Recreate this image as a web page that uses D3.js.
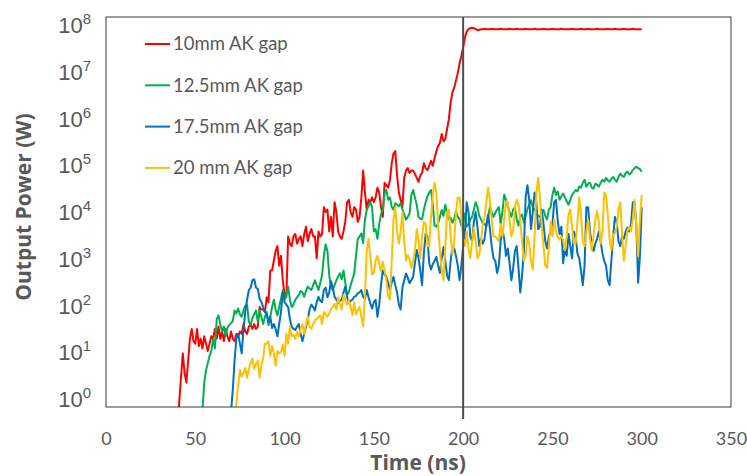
<!DOCTYPE html>
<html>
<head>
<meta charset="utf-8">
<script src="https://cdn.jsdelivr.net/npm/d3@7"></script>
<style>
  html, body { margin: 0; padding: 0; background: #fff; }
  svg { display: block; }
</style>
</head>
<body>
<svg id="chart" width="747" height="476"></svg>
<script>
// Output power traces, stored as log10 of the power in W,
// sampled every 1 ns starting at each trace's first time.
const seriesNames = ["10mm AK gap", "12.5mm AK gap", "17.5mm AK gap", "20 mm AK gap"];
const startTimes = [40, 54, 70, 72];
const sampleStep = 1;

const logPower10mm = [
  -0.5,0.1,0.6,1.1,0.7,0.5,0.95,1.4,1.6,1.35,
  1.3,1.6,1.25,1.4,1.2,1.45,1.3,1.15,1.3,1.45,
  1.4,1.6,1.4,1.65,1.4,1.55,1.35,1.6,1.45,1.35,
  1.55,1.4,1.35,1.5,1.45,1.55,1.5,1.7,1.55,1.5,
  1.65,1.7,1.6,1.7,1.6,1.65,2.05,2.0,2.0,1.95,
  2.25,2.15,2.8,2.8,3.0,3.2,3.3,2.9,3.1,2.6,
  2.3,2.25,3.5,3.35,3.3,3.5,3.55,3.35,3.45,3.5,
  3.3,3.55,3.7,3.4,3.55,3.65,3.5,3.5,3.05,3.6,
  3.5,3.55,4.1,4.0,4.05,3.6,3.9,3.5,4.2,4.0,
  3.6,3.5,3.45,3.6,3.8,4.2,4.25,4.0,3.9,4.1,
  4.05,3.8,3.9,4.3,4.85,4.4,4.05,4.25,4.2,4.3,
  4.2,4.3,4.5,4.4,4.1,3.9,4.6,4.55,4.5,4.65,
  5.0,5.2,5.25,4.75,4.4,4.25,4.1,4.7,4.85,4.9,
  4.8,4.85,4.85,4.78,4.7,4.62,4.75,4.8,5.0,4.9,
  4.86,4.95,5.05,4.95,5.1,5.25,5.35,5.42,5.6,5.45,
  5.5,5.7,5.9,6.25,6.45,6.55,6.7,6.85,7.05,7.2,
  7.38,7.58,7.7,7.75,7.77,7.78,7.77,7.75,7.73,7.74,
  7.75,7.75,7.76,7.75,7.75,7.75,7.76,7.75,7.75,7.75,
  7.75,7.76,7.75,7.75,7.75,7.75,7.76,7.75,7.75,7.75,
  7.76,7.75,7.75,7.75,7.75,7.76,7.75,7.75,7.75,7.75,
  7.76,7.75,7.75,7.75,7.75,7.76,7.75,7.75,7.75,7.75,
  7.76,7.75,7.75,7.75,7.75,7.76,7.75,7.75,7.75,7.75,
  7.75,7.76,7.75,7.75,7.75,7.75,7.76,7.75,7.75,7.75,
  7.76,7.75,7.75,7.75,7.75,7.76,7.75,7.75,7.75,7.75,
  7.75,7.76,7.75,7.75,7.75,7.76,7.75,7.75,7.75,7.75,
  7.76,7.75,7.75,7.75,7.75,7.76,7.75,7.75,7.75,7.75,
  7.75
];

const logPower12p5mm = [
  -0.1,0.5,0.75,0.9,1.05,1.15,
  1.4,1.2,1.8,1.88,1.7,1.55,1.65,1.45,1.62,1.68,
  1.72,1.76,1.98,1.92,2.02,1.9,1.85,1.98,2.08,2.1,
  1.75,1.68,1.82,1.9,1.98,1.75,1.98,1.85,1.7,1.85,
  1.95,1.68,1.85,2.05,2.2,2.0,1.88,2.05,2.22,2.4,
  2.2,2.3,2.47,2.2,2.05,2.1,2.2,2.25,2.3,2.38,
  2.35,2.26,2.38,2.47,2.43,2.4,2.5,2.6,2.5,2.4,
  2.55,2.7,3.1,3.34,3.2,2.7,2.45,2.4,2.5,2.6,
  2.68,2.74,2.62,2.8,2.55,2.3,2.35,2.5,2.62,2.74,
  3.1,3.45,3.5,3.56,3.36,3.84,4.04,4.12,4.2,4.1,
  3.6,3.65,3.45,3.75,3.95,4.05,4.38,4.45,4.25,4.3,
  4.1,4.05,4.18,4.15,4.12,4.18,4.05,3.95,3.84,3.9,
  3.97,4.35,4.45,4.3,4.15,3.9,3.86,3.85,4.05,4.2,
  4.32,4.4,4.45,4.15,3.72,3.7,3.77,3.9,4.04,3.92,
  4.15,3.95,3.85,3.88,3.78,3.85,4.02,3.9,3.85,3.72,
  3.78,3.97,3.7,3.75,3.85,3.9,4.05,4.2,4.1,3.92,
  3.85,3.77,3.75,3.7,3.9,4.1,4.0,3.9,3.98,4.05,
  4.1,3.75,4.0,4.36,4.25,4.1,4.0,3.9,4.05,4.1,
  3.85,3.72,3.9,3.95,3.78,3.92,4.06,4.15,4.24,4.1,
  4.04,3.98,3.92,3.9,3.98,4.04,3.92,3.85,4.05,4.1,
  4.35,4.5,4.35,4.42,4.25,4.32,4.38,4.3,4.22,4.15,
  4.25,4.35,4.4,4.45,4.42,4.52,4.5,4.6,4.66,4.52,
  4.58,4.6,4.5,4.48,4.58,4.56,4.52,4.6,4.66,4.62,
  4.7,4.65,4.62,4.68,4.72,4.66,4.62,4.72,4.79,4.74,
  4.72,4.8,4.83,4.77,4.8,4.86,4.9,4.93,4.9,4.88,
  4.83
];

const logPower17p5mm = [
  -0.1,0.35,0.95,1.4,1.5,1.3,1.1,1.6,1.95,2.2,
  2.4,2.45,2.6,2.62,2.45,2.42,2.22,2.16,2.05,1.95,
  1.9,1.75,1.85,1.62,1.7,1.6,1.45,1.7,1.95,2.35,
  2.15,2.1,2.05,1.8,1.65,1.6,1.58,1.65,1.7,1.5,
  1.35,1.5,1.65,1.8,2.0,2.1,2.05,1.98,2.15,2.26,
  2.18,2.15,2.4,2.45,2.25,2.35,2.58,2.45,2.26,2.2,
  2.13,2.18,2.2,2.35,2.47,2.25,2.13,2.18,2.2,2.26,
  2.28,2.33,2.35,2.4,2.26,2.22,2.4,2.25,2.13,2.02,
  2.15,2.2,1.85,2.1,2.5,2.8,2.72,2.67,2.55,2.4,
  2.55,2.67,2.5,2.35,2.1,2.0,2.45,2.6,2.74,2.65,
  2.54,2.6,2.67,2.95,3.22,3.05,2.8,2.5,3.15,3.55,
  3.5,2.95,2.82,2.93,3.0,3.08,2.9,2.75,3.05,3.28,
  3.0,2.7,2.6,3.0,3.3,3.25,3.1,2.9,2.6,2.9,
  3.3,3.6,4.2,4.0,3.5,3.4,3.8,4.0,3.7,3.3,
  3.45,3.35,3.45,3.75,3.95,3.65,3.3,3.05,3.0,2.75,
  2.9,3.4,3.62,3.45,3.1,3.25,2.95,2.6,2.85,3.2,
  3.3,2.85,2.35,2.7,3.2,4.3,4.55,4.25,3.65,4.0,
  4.4,4.2,3.65,3.7,4.05,3.75,3.4,3.25,3.5,3.6,
  3.75,4.2,4.25,3.8,3.55,3.7,2.95,3.25,3.1,3.55,
  3.3,3.05,3.6,3.5,3.15,3.05,2.8,2.5,2.9,4.1,
  4.1,3.6,3.35,3.2,3.35,3.45,3.6,3.4,3.15,3.0,
  2.9,2.6,2.5,3.0,3.5,3.9,3.8,3.4,3.3,3.5,
  3.45,3.6,3.68,3.6,3.75,4.2,4.2,3.7,2.55,3.1,
  4.1
];

const logPower20mm = [
  -0.3,0.05,0.45,0.76,0.62,0.7,0.8,0.6,
  0.78,0.9,1.0,0.78,0.88,0.95,0.6,0.85,1.0,1.3,
  1.3,1.35,1.05,1.25,1.1,0.85,1.15,1.1,1.12,1.28,
  1.05,1.5,1.3,1.65,1.45,1.48,1.4,1.55,1.45,1.6,
  1.7,1.5,1.7,1.85,1.65,1.6,1.7,1.78,1.8,1.85,
  1.88,1.7,1.95,1.9,1.85,1.92,2.0,2.05,2.12,2.0,
  2.25,2.12,2.0,2.3,2.18,2.1,2.2,2.05,1.88,2.15,
  1.9,1.98,2.05,1.85,1.65,2.3,3.2,3.45,3.1,2.72,
  2.75,3.0,3.1,2.95,2.78,2.98,2.8,2.6,2.28,2.2,
  3.0,3.85,4.1,3.6,3.35,3.6,4.0,3.4,3.0,3.12,
  3.02,2.85,3.0,3.2,3.65,3.4,3.05,3.5,3.8,3.75,
  3.3,3.3,3.9,4.35,4.6,4.4,3.72,3.2,2.8,2.6,
  3.3,4.0,4.05,3.5,3.12,3.4,3.98,4.3,4.3,3.9,
  3.45,3.3,3.6,3.25,3.05,3.4,3.68,3.4,3.05,3.12,
  3.4,3.75,3.9,4.2,4.5,4.25,3.84,3.5,3.5,3.45,
  3.4,3.75,3.5,3.85,4.22,4.2,3.85,3.5,3.6,4.1,
  4.25,4.15,3.8,3.4,3.0,3.1,3.5,3.35,3.0,2.82,
  3.5,4.4,4.7,4.3,3.7,3.3,2.9,2.85,3.3,3.8,
  3.5,3.85,3.6,3.5,3.43,3.5,3.43,3.22,3.5,3.95,
  4.05,3.7,3.35,3.35,3.8,4.3,3.95,3.4,3.3,3.6,
  3.84,3.45,3.22,3.5,3.85,4.02,3.8,3.35,3.6,4.4,
  4.35,3.95,3.45,3.22,3.55,3.56,3.7,4.05,4.2,3.55,
  3.0,3.3,3.62,3.7,3.6,3.85,4.25,3.7,3.1,3.85,
  4.35
];

const timeTicks = [0, 50, 100, 150, 200, 250, 300, 350];
const powerExponents = [0, 1, 2, 3, 4, 5, 6, 7, 8];
const markerTime = 200;

// ---- styling ----
const lineColors = ["#FF0000", "#00B050", "#0070C0", "#FFC000"];
const textGray = "#595959";

const svg = d3.select("#chart");
const plot = { left: 106, right: 731, top: 17, bottom: 407 };

const x = d3.scaleLinear().domain([0, 350]).range([plot.left, plot.right]);
const y = d3.scaleLog().domain([1, 1e8]).range([plot.bottom, plot.top]);

const allSeries = [logPower10mm, logPower12p5mm, logPower17p5mm, logPower20mm].map((vals, i) => ({
  name: seriesNames[i],
  color: lineColors[i],
  points: vals.map((v, k) => ({ t: startTimes[i] + k * sampleStep, p: Math.pow(10, v) }))
}));

svg.append("defs").append("clipPath").attr("id", "plotClip")
  .append("rect")
  .attr("x", plot.left).attr("y", plot.top)
  .attr("width", plot.right - plot.left).attr("height", plot.bottom - plot.top);

// traces
const line = d3.line().x(d => x(d.t)).y(d => y(d.p));
svg.append("g").attr("clip-path", "url(#plotClip)")
  .selectAll("path").data(allSeries).join("path")
  .attr("d", d => line(d.points))
  .attr("fill", "none")
  .attr("stroke", d => d.color)
  .attr("stroke-width", 2)
  .attr("stroke-linejoin", "round");

// plot frame
svg.append("rect")
  .attr("x", plot.left).attr("y", plot.top)
  .attr("width", plot.right - plot.left).attr("height", plot.bottom - plot.top)
  .attr("fill", "none").attr("stroke", "#3a3a3a").attr("stroke-width", 1);

// marker at 200 ns
svg.append("line")
  .attr("x1", x(markerTime)).attr("x2", x(markerTime))
  .attr("y1", plot.top).attr("y2", plot.bottom + 12)
  .attr("stroke", "#4d4d4d").attr("stroke-width", 2);

// x axis labels
const xAxis = d3.axisBottom(x).tickValues(timeTicks).tickSize(0).tickPadding(0).tickFormat(d3.format("d"));
const gx = svg.append("g").attr("transform", `translate(0,${plot.bottom})`).call(xAxis);
gx.select(".domain").remove();
gx.selectAll("text")
  .attr("y", 38).attr("dy", null)
  .attr("fill", textGray)
  .style("font-family", "Lato, 'Open Sans', sans-serif")
  .style("font-size", "18px");

// y axis labels: powers of ten
const labelBase = d3.scaleLinear().domain([0, 8]).range([plot.bottom, plot.top + 16]);
const yl = svg.append("g").selectAll("text").data(powerExponents).join("text")
  .attr("x", 91)
  .attr("y", d => labelBase(d))
  .attr("text-anchor", "end")
  .attr("fill", textGray)
  .style("font-family", "'Liberation Sans', Arial, sans-serif")
  .style("font-size", "22px");
yl.append("tspan").text("10");
yl.append("tspan").attr("dy", -9).style("font-size", "15px").text(d => d);

// axis titles
svg.append("text")
  .attr("x", 418).attr("y", 470)
  .attr("text-anchor", "middle")
  .attr("fill", textGray)
  .style("font-family", "'Open Sans', Lato, sans-serif")
  .style("font-weight", "bold")
  .style("font-size", "21px")
  .text("Time (ns)");

svg.append("text")
  .attr("transform", "translate(31,207) rotate(-90)")
  .attr("text-anchor", "middle")
  .attr("fill", textGray)
  .style("font-family", "'Open Sans', Lato, sans-serif")
  .style("font-weight", "bold")
  .style("font-size", "21px")
  .text("Output Power (W)");

// legend
const legend = svg.append("g").selectAll("g").data(allSeries).join("g")
  .attr("transform", (d, i) => `translate(145,${44 + i * 41.3})`);
legend.append("line")
  .attr("x1", 0).attr("x2", 25).attr("y1", 0).attr("y2", 0)
  .attr("stroke", d => d.color).attr("stroke-width", 2);
legend.append("text")
  .attr("x", 28).attr("y", 0).attr("dy", "0.35em")
  .attr("fill", textGray)
  .style("font-family", "Lato, 'Open Sans', sans-serif")
  .style("font-size", "18.5px")
  .text(d => d.name);
</script>
</body>
</html>
